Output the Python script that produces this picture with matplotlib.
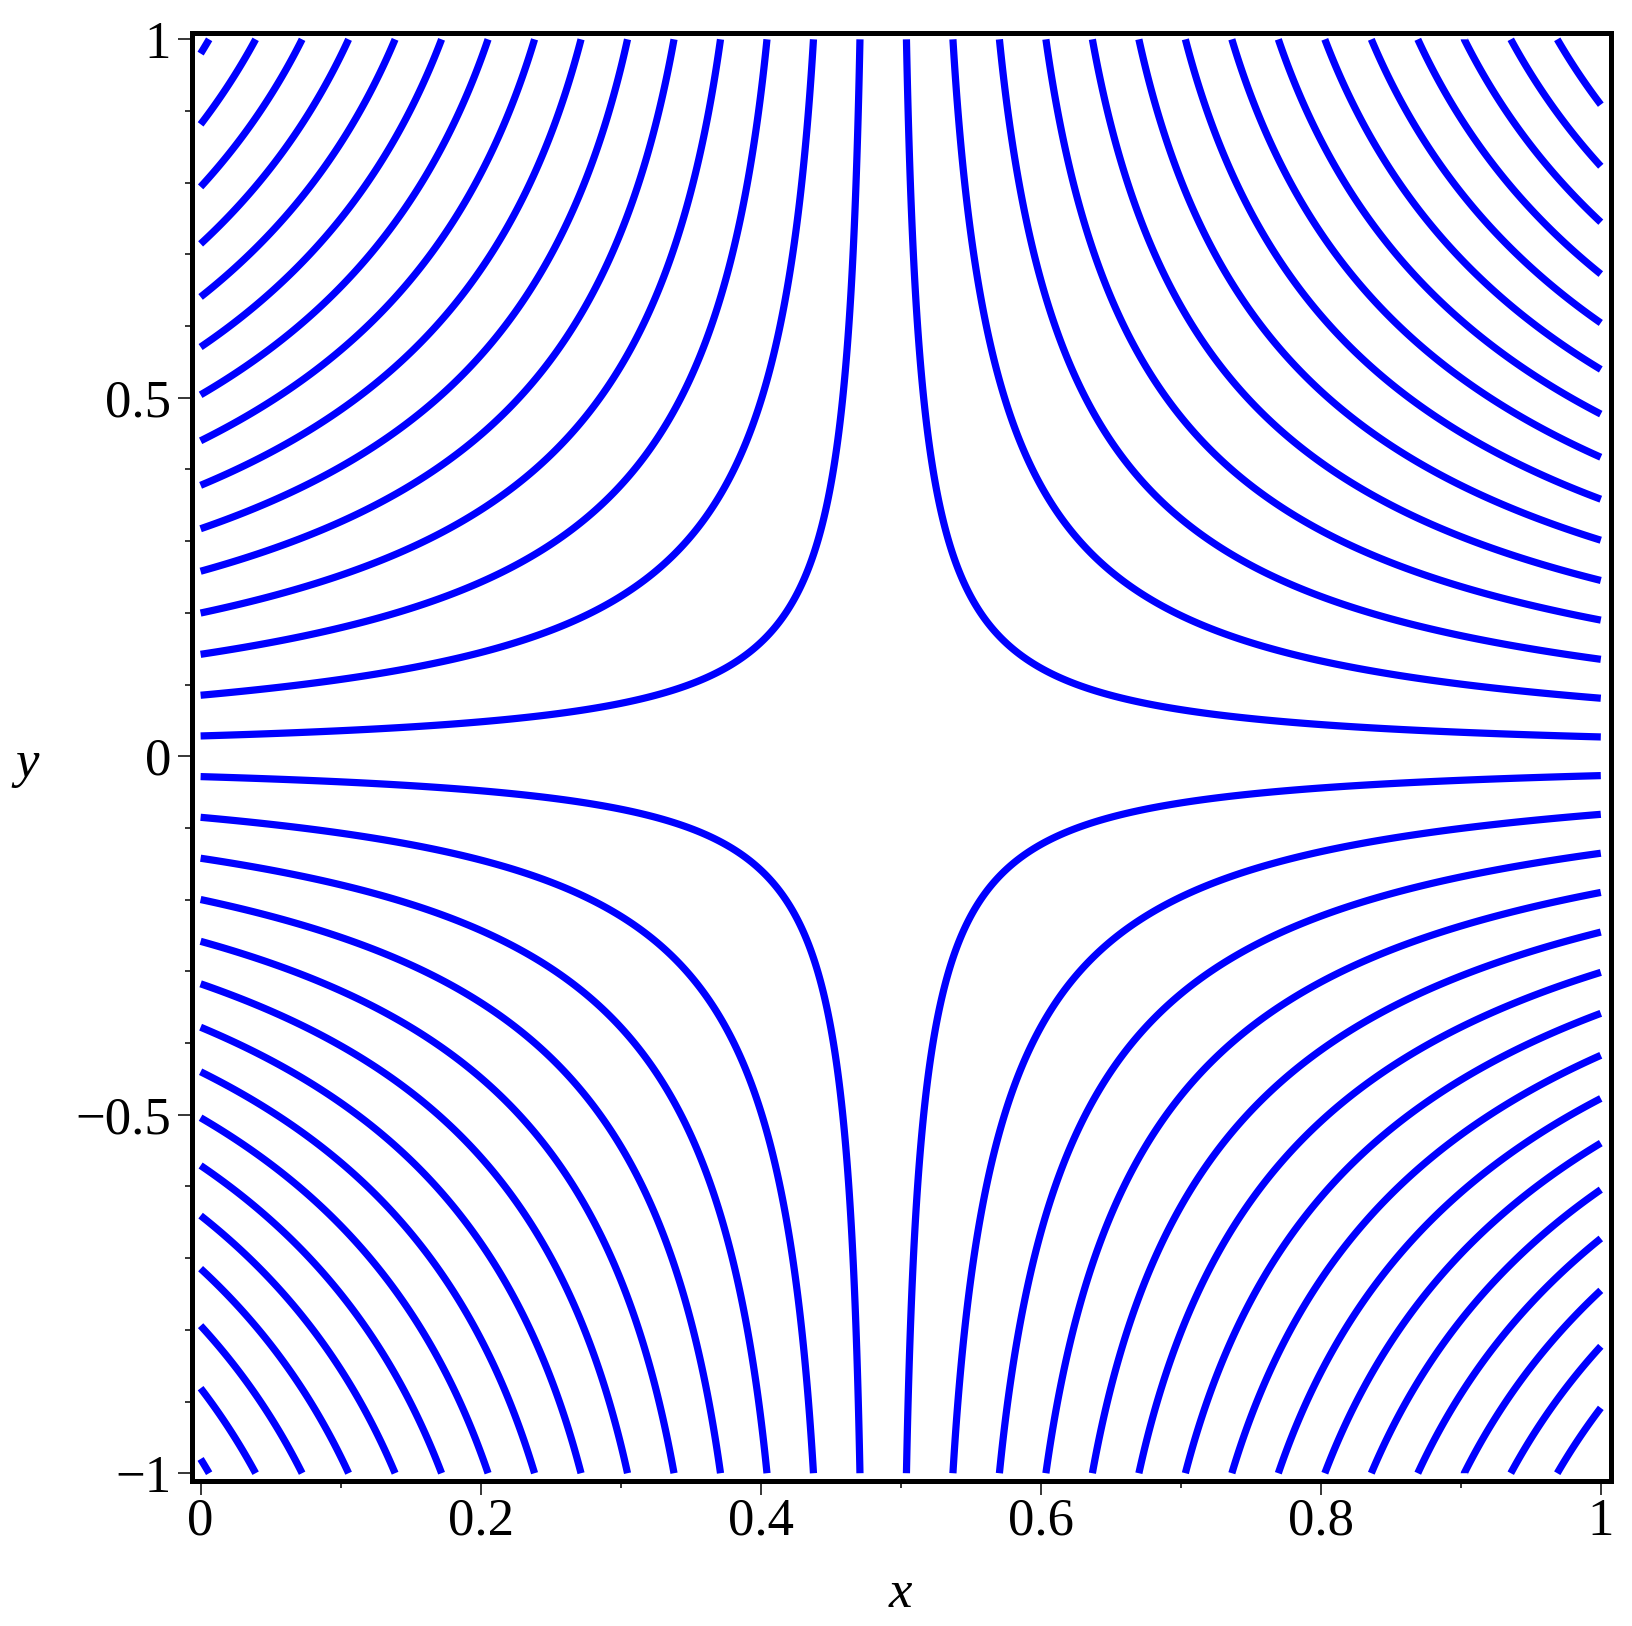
import numpy as np
import matplotlib
matplotlib.use("Agg")
import matplotlib.pyplot as plt
from matplotlib.ticker import MultipleLocator, FuncFormatter, FixedLocator

# ---- data ----
x_range = [0.0, 1.0]
y_range = [-1.0, 1.0]
x_center = 0.4875          # where the field changes sign in x
y_wave = 1.03              # curvature of the y dependence
levels = [-0.4814, -0.4482, -0.4150, -0.3818, -0.3486, -0.3154, -0.2822,
          -0.2490, -0.2158, -0.1826, -0.1494, -0.1162, -0.0830, -0.0498,
          -0.0166, 0.0166, 0.0498, 0.0830, 0.1162, 0.1494, 0.1826, 0.2158,
          0.2490, 0.2822, 0.3154, 0.3486, 0.3818, 0.4150, 0.4482, 0.4814]
x_ticks_major = [0, 0.2, 0.4, 0.6, 0.8, 1]
y_ticks_major = [-1, -0.5, 0, 0.5, 1]

FONT = "Liberation Serif"

fig = plt.figure(figsize=(16.32, 16.26), dpi=100)
ax = fig.add_axes([0.1176, 0.0892, 0.8698, 0.8908])

x = np.linspace(x_range[0], x_range[1], 1201)
y = np.linspace(y_range[0], y_range[1], 2401)
X, Y = np.meshgrid(x, y)
Z = (X - x_center) * np.sin(y_wave * Y) / np.sin(y_wave)
ax.contour(X, Y, Z, levels=levels, colors="#0000ff", linewidths=5.2,
           linestyles="solid")

ax.set_xlim(-0.0062, 1.0076)
ax.set_ylim(-1.0108, 1.0095)

ax.xaxis.set_major_locator(FixedLocator(x_ticks_major))
ax.xaxis.set_minor_locator(MultipleLocator(0.1))
ax.yaxis.set_major_locator(FixedLocator(y_ticks_major))
ax.yaxis.set_minor_locator(MultipleLocator(0.1))

fmt = FuncFormatter(lambda v, p: ("%g" % v).replace("-", "\u2212"))
ax.xaxis.set_major_formatter(fmt)
ax.yaxis.set_major_formatter(fmt)

ax.tick_params(which="major", direction="out", length=10, width=1.1,
               labelsize=38, color="black")
ax.tick_params(which="minor", direction="out", length=5, width=1.1,
               color="black")
ax.tick_params(axis="x", which="major", pad=2)
ax.tick_params(axis="y", which="major", pad=5)
for lab in ax.get_xticklabels() + ax.get_yticklabels():
    lab.set_fontfamily(FONT)

for s in ax.spines.values():
    s.set_linewidth(3.6)
    s.set_color("black")

fig.text(900 / 1632, 1 - 1594 / 1626, "x", fontsize=38, fontfamily=FONT,
         style="italic", ha="center", va="center")
fig.text(27 / 1632, 1 - 764 / 1626, "y", fontsize=38, fontfamily=FONT,
         style="italic", ha="center", va="center")

fig.savefig("out.png", dpi=100)
